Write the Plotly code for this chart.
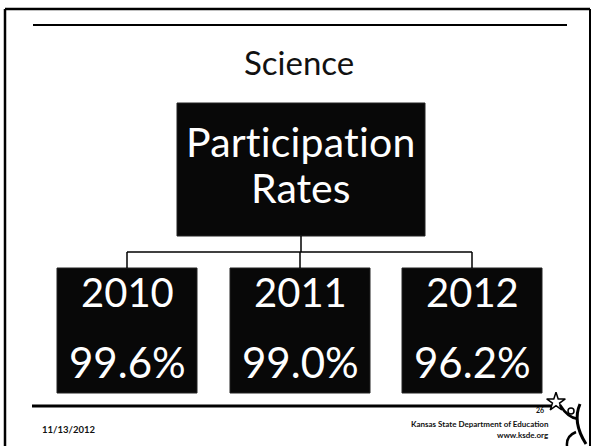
"""Science participation rates slide, rebuilt with Plotly."""

import plotly.graph_objects as go

W, H = 593, 446

subject = "Science"
header = ["Participation", "Rates"]
years = ["2010", "2011", "2012"]
rates = ["99.6%", "99.0%", "96.2%"]
slide_date = "11/13/2012"
org_lines = ["Kansas State Department of Education", "www.ksde.org"]
page_no = "26"

# box centres along the bottom row (slide pixels)
box_cx = [127, 300, 472]
BOX_W, BOX_TOP, BOX_BOT = 140, 268, 393
TOP_BOX = dict(x0=177, x1=425, y0=103, y1=236)
FONT = "Lato, Carlito, 'Open Sans', sans-serif"

fig = go.Figure()
shapes = []


def line(x0, y0, x1, y1, w=1.5):
    shapes.append(dict(type="line", x0=x0, y0=y0, x1=x1, y1=y1,
                       line=dict(color="black", width=w)))


def no_liga(s):
    # a tiny letter-spacing makes the browser skip Lato's "ti" ligature
    return f"<span style='letter-spacing:0.2px'>{s}</span>"


# slide frame and rules
line(5, 9, 590, 9, 2.5)
line(5, 9, 5, H, 2.5)
line(590, 9, 590, H, 2)
line(33, 25, 567, 25, 2)
line(32, 406, 552, 406, 3)

# org chart boxes
shapes.append(dict(type="rect", **TOP_BOX, fillcolor="#080808",
                   line=dict(color="#222", width=1)))
for cx in box_cx:
    shapes.append(dict(type="rect", x0=cx - BOX_W / 2, x1=cx + BOX_W / 2,
                       y0=BOX_TOP, y1=BOX_BOT, fillcolor="#080808",
                       line=dict(color="#222", width=1)))

# connectors
mid = (TOP_BOX["x0"] + TOP_BOX["x1"]) / 2
line(mid, TOP_BOX["y1"], mid, 252)
line(box_cx[0], 252, box_cx[-1], 252)
for cx in box_cx:
    line(cx, 252, cx, BOX_TOP)

# logo figure (rough stick person reaching for the star)
shapes.append(dict(type="path", path="M 560 405 Q 568 418 578 419",
                   line=dict(color="black", width=2.5)))
shapes.append(dict(type="path", path="M 580 404 Q 572 422 586 444",
                   line=dict(color="black", width=3)))
shapes.append(dict(type="path", path="M 576 432 Q 566 436 567 446",
                   line=dict(color="black", width=2.5)))
shapes.append(dict(type="circle", x0=568, y0=408, x1=574, y1=414,
                   line=dict(color="black", width=1.5)))

fig.add_trace(go.Scatter(x=[556], y=[402], mode="markers",
                         marker=dict(symbol="star-open", size=14,
                                     color="black", line=dict(width=1.5)),
                         hoverinfo="skip"))

ann = []
ann.append(dict(x=299, y=62, text=subject, font=dict(size=33, color="#111")))
ann.append(dict(x=mid, y=141, text=no_liga(header[0]),
                font=dict(size=41, color="white")))
ann.append(dict(x=mid, y=187, text=header[1], font=dict(size=41, color="white")))
for cx, yr, rt in zip(box_cx, years, rates):
    ann.append(dict(x=cx, y=292, text=yr, font=dict(size=40, color="white")))
    ann.append(dict(x=cx, y=362, text=rt, font=dict(size=42, color="white")))
ann.append(dict(x=40, y=429, text=slide_date, xanchor="left",
                font=dict(size=9.5, color="#111", weight="bold")))
ann.append(dict(x=551, y=424, text=org_lines[0], xanchor="right",
                font=dict(size=8, color="#111", weight="bold")))
ann.append(dict(x=551, y=435, text=org_lines[1], xanchor="right",
                font=dict(size=8, color="#111", weight="bold")))
ann.append(dict(x=546, y=410, text=page_no, xanchor="right",
                font=dict(size=7, color="#111", weight="bold")))
for a in ann:
    a.setdefault("xanchor", "center")
    a.update(xref="x", yref="y", showarrow=False, yanchor="middle")
    a["font"].setdefault("family", FONT)

fig.update_layout(
    width=W, height=H, margin=dict(l=0, r=0, t=0, b=0),
    paper_bgcolor="white", plot_bgcolor="white", showlegend=False,
    shapes=shapes, annotations=ann,
    xaxis=dict(range=[0, W], visible=False, fixedrange=True),
    yaxis=dict(range=[H, 0], visible=False, fixedrange=True),
)

# drop the default 8px page margin so the slide fills the window
fig.write_html("out.html", config={"displayModeBar": False},
               post_script="document.body.style.margin='0';")
